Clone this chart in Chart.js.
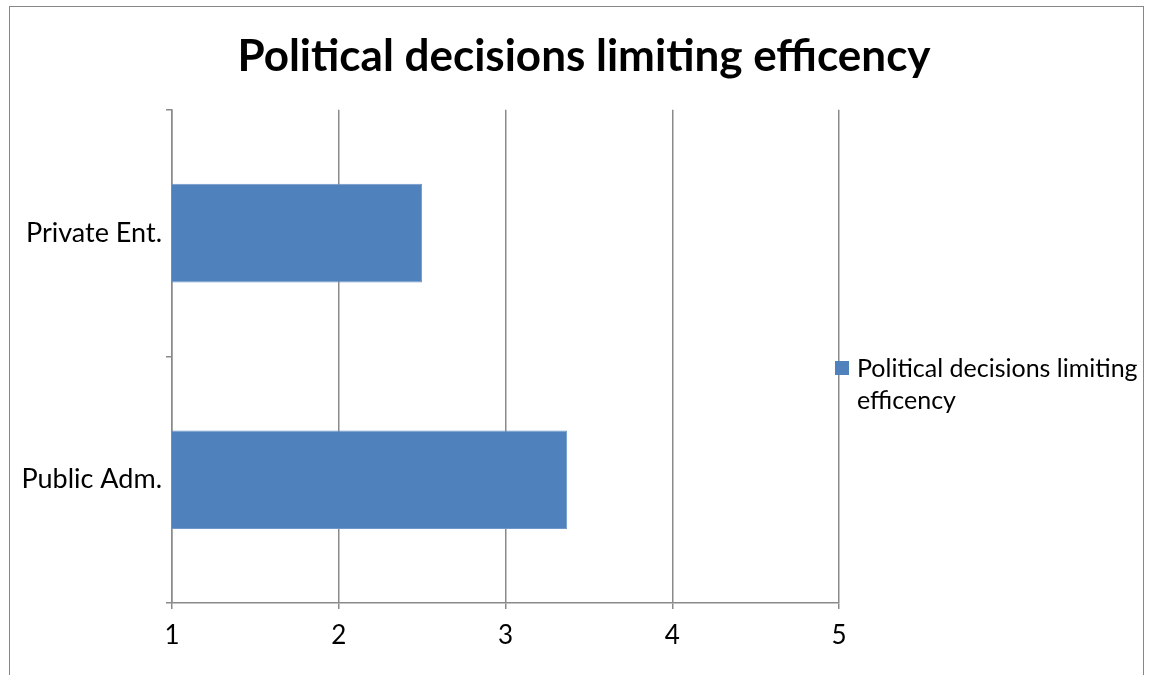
<!DOCTYPE html>
<html>
<head>
<meta charset="utf-8">
<script src="https://cdn.jsdelivr.net/npm/chart.js@4/dist/chart.umd.min.js"></script>
<style>
  html,body{margin:0;padding:0;background:#fff;}
  #wrap{position:relative;width:1154px;height:675px;overflow:hidden;}
  #frame{position:absolute;left:9px;top:6px;width:1135px;height:720px;border:1px solid #878787;box-sizing:border-box;}
  canvas{position:absolute;left:0;top:0;}
  #legend{position:absolute;left:835px;top:351px;font-family:Lato,sans-serif;font-size:25px;line-height:32px;color:#000;}
  #legend .sw{position:absolute;left:0;top:10px;width:14px;height:14px;background:#4f81bd;}
  #legend .tx{margin-left:22px;width:300px;}
</style>
</head>
<body>
<div id="wrap">
  <div id="frame"></div>
  <canvas id="chart" width="1154" height="675"></canvas>
  <div id="legend"><div class="sw"></div><div class="tx">Political decisions limiting efficency</div></div>
</div>
<script>
// data
const categories = ['Private Ent.', 'Public Adm.'];
const seriesName = 'Political decisions limiting efficency';
const seriesValues = [2.5, 3.37];
const xTicks = [1, 2, 3, 4, 5];

const gridGrey = '#8a8a8a';
const fontFam = 'Lato, sans-serif';

function renderChart(){
  const ctx = document.getElementById('chart').getContext('2d');
  window.chartInstance = new Chart(ctx, {
    type:'bar',
    data:{ labels:categories, datasets:[{ label:seriesName, data:seriesValues, backgroundColor:'#4f81bd', borderColor:'#6f97c9', borderWidth:1, barPercentage:0.4, categoryPercentage:1 }]},
    options:{
      indexAxis:'y',
      responsive:false,
      animation:false,
      layout:{ padding:{ left:14, right:0, top:0, bottom:0 } },
      plugins:{
        legend:{ display:false },
        tooltip:{ enabled:false },
        title:{ display:true, text:'Political decisions limiting efficency', color:'#000',
          font:{ family:fontFam, size:44, weight:'bold' }, padding:{ top:30, bottom:27 } }
      },
      scales:{
        x:{
          min:1, max:5,
          afterBuildTicks: s => { s.ticks = xTicks.map(v=>({ value:v })); },
          afterFit: s => { s.height = 72; },
          grid:{ color:gridGrey, lineWidth:1.5, tickLength:6 },
          border:{ color:gridGrey, width:1.5 },
          ticks:{ color:'#000', font:{ family:fontFam, size:26 }, padding:11 }
        },
        y:{
          afterFit: s => { s.width = 158; },
          grid:{ color:gridGrey, lineWidth:1.5, drawOnChartArea:false, tickLength:6, offset:true },
          border:{ color:gridGrey, width:1.5 },
          ticks:{ color:'#000', font:{ family:fontFam, size:27 }, padding:4 }
        },
        // empty right axis just reserves room for the legend
        yRight:{
          type:'category', position:'right', labels:categories,
          afterFit: s => { s.width = 315; },
          grid:{ display:false }, border:{ display:false }, ticks:{ display:false }
        }
      }
    }
  });
}
renderChart();
</script>
</body>
</html>
